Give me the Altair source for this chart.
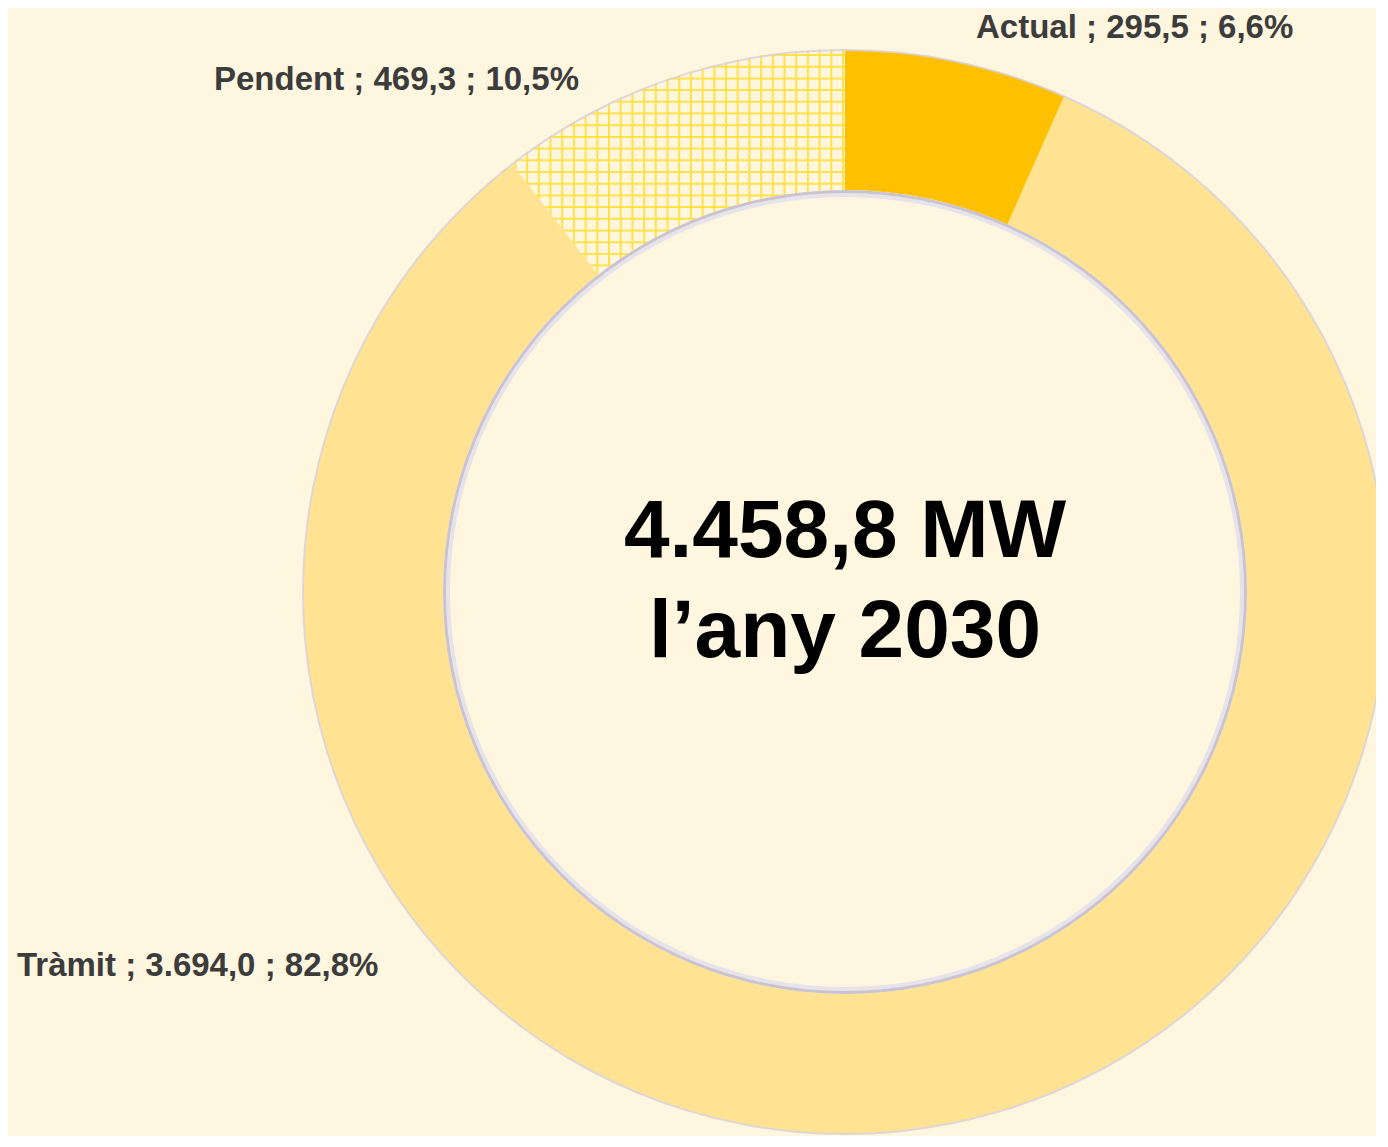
import math
import altair as alt
import pandas as pd

# ---- data ----
categories = ["Actual", "Tràmit", "Pendent"]
values_mw = [295.5, 3694.0, 469.3]
slice_colors = ["#FFC000", "#FFE393", "#FFF6E0"]
center_line2 = "l\u2019any 2030"

# ---- label placement (view pixels) ----
label_x = [968, 9, 206]
label_y = [30, 968, 82]

# ---- layout / style ----
W, H = 1368, 1128
CX, CY = 837, 584
R_OUT, R_IN = 542, 402
BG = "#FFF6E0"
HATCH = "#FFE24A"
HATCH_STEP = 11.7


def ca(v, d=1):
    s = f"{v:,.{d}f}"
    return s.replace(",", "X").replace(".", ",").replace("X", ".")


total = sum(values_mw)
labels = [f"{c} ; {ca(v)} ; {ca(100 * v / total)}%" for c, v in zip(categories, values_mw)]

df = pd.DataFrame({
    "cat": categories,
    "value": values_mw,
    "idx": list(range(len(categories))),
})
lab_df = pd.DataFrame({"label": labels, "lx": label_x, "ly": label_y})
center_df = pd.DataFrame({"l1": [f"{ca(total)} MW"], "l2": [center_line2]})

xs = alt.Scale(domain=[0, W], range=[0, W], nice=False, zero=False)
ys = alt.Scale(domain=[0, H], range=[0, H], nice=False, zero=False)
one = alt.Data(values=[{"a": 1}])

# hatch grid (texture of the "Pendent" slice)
vgrid = alt.Chart(alt.sequence(start=CX - 2 - HATCH_STEP * 31, stop=CX + 4, step=HATCH_STEP, as_="v")).mark_rule(
    color=HATCH, strokeWidth=2
).encode(x=alt.X("v:Q", scale=xs, axis=None), y=alt.value(28), y2=alt.value(285))
hgrid = alt.Chart(alt.sequence(start=47, stop=285, step=HATCH_STEP, as_="v")).mark_rule(
    color=HATCH, strokeWidth=2
).encode(y=alt.Y("v:Q", scale=ys, axis=None), x=alt.value(470), x2=alt.value(846))

inner_mask = alt.Chart(one).mark_arc(
    theta=0, theta2=2 * math.pi, innerRadius=0, outerRadius=R_IN, color=BG
).encode(x=alt.value(CX), y=alt.value(CY))
outer_mask = alt.Chart(one).mark_arc(
    theta=5.1, theta2=6.6, innerRadius=R_OUT + 1, outerRadius=900, color=BG
).encode(x=alt.value(CX), y=alt.value(CY))

donut = alt.Chart(df).mark_arc(innerRadius=R_IN, outerRadius=R_OUT).encode(
    theta=alt.Theta("value:Q", stack=True),
    order=alt.Order("idx:Q"),
    color=alt.Color("cat:N", scale=alt.Scale(domain=categories, range=slice_colors), legend=None),
    opacity=alt.condition(alt.datum.cat == "Pendent", alt.value(0), alt.value(1)),
    x=alt.value(CX),
    y=alt.value(CY),
)

shadow1 = alt.Chart(one).mark_arc(
    theta=0, theta2=2 * math.pi, innerRadius=R_IN - 7, outerRadius=R_IN - 3, color="#E7E3EB"
).encode(x=alt.value(CX), y=alt.value(CY))
shadow2 = alt.Chart(one).mark_arc(
    theta=0, theta2=2 * math.pi, innerRadius=R_IN - 3, outerRadius=R_IN, color="#C9C3D2"
).encode(x=alt.value(CX), y=alt.value(CY))
edge = alt.Chart(one).mark_arc(
    theta=0, theta2=2 * math.pi, innerRadius=R_OUT - 1, outerRadius=R_OUT + 1, color="#D6D1DC", opacity=0.8
).encode(x=alt.value(CX), y=alt.value(CY))

texts = alt.Chart(lab_df).mark_text(
    align="left", baseline="alphabetic", font="Liberation Sans", fontWeight="bold",
    fontSize=33, color="#3C3C3C"
).encode(
    x=alt.X("lx:Q", scale=xs, axis=None),
    y=alt.Y("ly:Q", scale=ys, axis=None),
    text="label:N",
)

c1 = alt.Chart(center_df).mark_text(
    align="center", baseline="alphabetic", font="Liberation Sans", fontWeight="bold",
    fontSize=82, color="#000000"
).encode(x=alt.value(CX), y=alt.value(549), text="l1:N")
c2 = alt.Chart(center_df).mark_text(
    align="center", baseline="alphabetic", font="Liberation Sans", fontWeight="bold",
    fontSize=82, color="#000000"
).encode(x=alt.value(CX), y=alt.value(649), text="l2:N")

chart = alt.layer(
    vgrid, hgrid, inner_mask, outer_mask, donut, shadow1, shadow2, edge, texts, c1, c2
).properties(
    width=W, height=H, background=BG, padding=0, autosize="none"
).configure_view(stroke=None)

chart.save("out.html", embed_options={"renderer": "svg", "actions": False})
